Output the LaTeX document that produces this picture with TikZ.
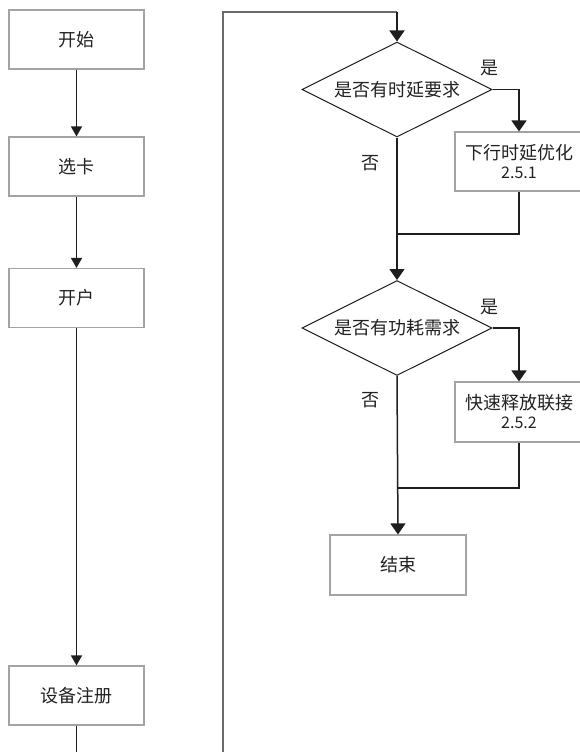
\documentclass[tikz,border=0pt]{standalone}
\usepackage{fontspec}
\setmainfont{Noto Sans CJK SC}
\usetikzlibrary{arrows.meta,shapes.geometric}
\definecolor{boxgray}{HTML}{A3A3A3}
\definecolor{linedark}{HTML}{1E1E1E}
\definecolor{loopgray}{HTML}{6A6A6A}
\definecolor{txt}{HTML}{222222}

\begin{document}
\begin{tikzpicture}[x=1pt,y=-1pt,
  box/.style={draw=boxgray, line width=1.1pt, minimum width=135pt, minimum height=59pt,
    inner sep=0pt, font=\fontsize{18}{20}\selectfont, text=txt, align=center},
  decision/.style={diamond, draw=linedark, line width=1pt, aspect=2,
    minimum width=190pt, minimum height=95pt, inner sep=0pt,
    font=\fontsize{18}{20}\selectfont, text=txt},
  lbl/.style={font=\fontsize{18}{20}\selectfont, text=txt, inner sep=0pt},
  wire/.style={draw=linedark, line width=1.5pt},
  sarrow/.style={wire, -{Triangle[width=11pt,length=10pt]}},
  barrow/.style={wire, -{Triangle[width=15pt,length=11pt]}},
  loopline/.style={draw=loopgray, line width=1.8pt}]

\useasboundingbox (0,0) rectangle (580,752);
\clip (0,0) rectangle (580,752);
\fill[white] (0,0) rectangle (580,752);

% left column
\node[box] (start) at (76.5,39.5) {开始};
\node[box] (card)  at (76.5,166.5) {选卡};
\node[box] (acct)  at (76.5,298) {开户};
\node[box] (reg)   at (76.5,695.5) {设备注册};
\coordinate (regout) at (76.5,760);

% right column
\node[decision] (d1) at (397,89.5) {是否有时延要求};
\node[box, minimum width=128pt] (opt1) at (519,161.5) {下行时延优化\\[-1pt]{\fontsize{16}{18}\selectfont 2.5.1}};
\node[decision] (d2) at (397,328) {是否有功耗需求};
\node[box, minimum width=128pt, minimum height=60pt] (opt2) at (519,412) {快速释放联接\\[-1pt]{\fontsize{16}{18}\selectfont 2.5.2}};
\node[box, minimum width=136pt, minimum height=60pt] (finish) at (398,565) {结束};

\node[lbl] (yes1) at (489,68) {是};
\node[lbl] (no1)  at (370,163) {否};
\node[lbl] (yes2) at (489,307) {是};
\node[lbl] (no2)  at (370,400) {否};

\coordinate (loopin)  at (223,760);
\coordinate (looptop) at (397,12);
\coordinate (join1)   at (397,234);
\coordinate (join2)   at (397,488);

% left column connectors
\draw[sarrow] (start) -- (card);
\draw[sarrow] (card) -- (acct);
\draw[sarrow] (acct) -- (reg);
\draw[wire] (reg) -- (regout);

% loop back into the right column
\draw[loopline] (loopin) |- (looptop);
\draw[barrow] (looptop) -- (d1.north);

% decisions and branches
\draw[barrow] (d1.east) -| (opt1.north);
\draw[wire] (opt1.south) |- (join1);
\draw[barrow] (d1.south) -- (d2.north);
\draw[barrow] (d2.east) -| (opt2.north);
\draw[wire] (opt2.south) |- (join2);
\draw[barrow] (d2.south) -- (finish.north);
\end{tikzpicture}
\end{document}
